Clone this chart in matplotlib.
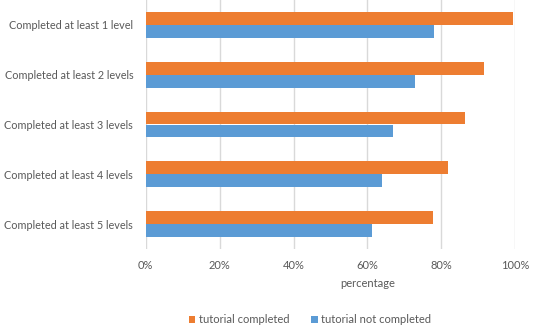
import numpy as np
import matplotlib.pyplot as plt
from matplotlib.ticker import PercentFormatter

categories = ["Completed at least 1 level", "Completed at least 2 levels",
              "Completed at least 3 levels", "Completed at least 4 levels",
              "Completed at least 5 levels"]
tutorial_completed = [99.4, 91.5, 86.4, 81.8, 77.7]
tutorial_not_completed = [78.0, 72.9, 66.9, 63.9, 61.2]
series_names = ["tutorial completed", "tutorial not completed"]

plt.rcParams['font.family'] = ['Lato', 'DejaVu Sans']
text_col = '#595959'

fig = plt.figure(figsize=(5.39, 3.32), dpi=100)
ax = fig.add_axes([0.2703, 0.25, 0.6857, 0.75])

y = np.arange(len(categories))
h = 0.26
ax.barh(y - h / 2, tutorial_completed, height=h, color='#ED7D31',
        label=series_names[0], zorder=2)
ax.barh(y + h / 2, tutorial_not_completed, height=h, color='#5B9BD5',
        label=series_names[1], zorder=2)

ax.set_ylim(len(categories) - 0.5, -0.5)
ax.set_xlim(0, 100)
ax.set_xticks(np.arange(0, 101, 20))
ax.xaxis.set_major_formatter(PercentFormatter(decimals=0))
ax.set_yticks(y)
ax.set_yticklabels(categories, fontsize=7.8)
ax.grid(axis='x', color='#d9d9d9', linewidth=1, zorder=0)
for s in ax.spines.values():
    s.set_visible(False)
ax.tick_params(length=0, colors=text_col)
ax.tick_params(axis='x', pad=8, labelsize=8)
ax.tick_params(axis='y', pad=9)
ax.set_xlabel("percentage", color=text_col, fontsize=8, labelpad=3)
ax.xaxis.set_label_coords(0.6, -0.115)

fig.legend(loc='lower center', bbox_to_anchor=(0.575, -0.01), ncol=2,
           frameon=False, fontsize=8, labelcolor=text_col,
           handlelength=0.6, handleheight=0.6, handletextpad=0.3,
           columnspacing=2.0)

fig.savefig("out.png", dpi=100)
